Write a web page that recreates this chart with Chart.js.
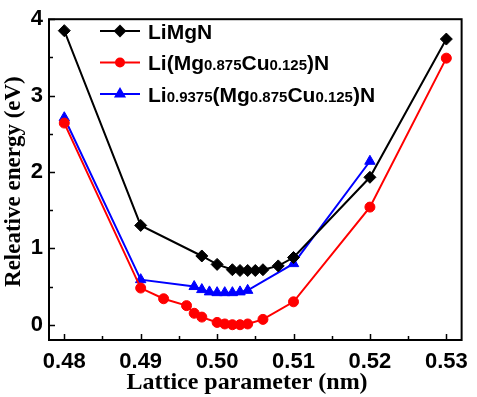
<!DOCTYPE html>
<html>
<head>
<meta charset="utf-8">
<script src="https://cdn.jsdelivr.net/npm/chart.js@4.4.1/dist/chart.umd.min.js"></script>
<style>
  html, body { margin: 0; padding: 0; background: #fff; }
  #wrap { width: 477px; height: 397px; position: relative; }
</style>
</head>
<body>
<div id="wrap"><canvas id="chart"></canvas></div>
<script>
// Lattice parameter (nm) vs relative energy (eV)
var latticeLiMgN = [0.48, 0.49, 0.498, 0.50, 0.502, 0.503, 0.504, 0.505, 0.506, 0.508, 0.51, 0.52, 0.53];
var energyLiMgN  = [3.85, 1.30, 0.90, 0.79, 0.72, 0.71, 0.71, 0.71, 0.72, 0.77, 0.88, 1.93, 3.74];

var latticeCu = [0.48, 0.49, 0.493, 0.496, 0.497, 0.498, 0.50, 0.501, 0.502, 0.503, 0.504, 0.506, 0.51, 0.52, 0.53];
var energyCu  = [2.64, 0.48, 0.34, 0.25, 0.15, 0.10, 0.03, 0.01, 0.00, 0.00, 0.01, 0.07, 0.30, 1.54, 3.49];

var latticeLiCu = [0.48, 0.49, 0.497, 0.498, 0.499, 0.50, 0.501, 0.502, 0.503, 0.504, 0.51, 0.52];
var energyLiCu  = [2.71, 0.59, 0.50, 0.46, 0.43, 0.42, 0.42, 0.42, 0.43, 0.45, 0.80, 2.14];

var xTicks = [0.48, 0.49, 0.50, 0.51, 0.52, 0.53];
var yTicks = [0, 1, 2, 3, 4];

// legend labels: [text, isSubscript]
var legendLabels = [
  [['LiMgN', 0]],
  [['Li(Mg', 0], ['0.875', 1], ['Cu', 0], ['0.125', 1], [')N', 0]],
  [['Li', 0], ['0.9375', 1], ['(Mg', 0], ['0.875', 1], ['Cu', 0], ['0.125', 1], [')N', 0]]
];
var xTitle = 'Lattice parameter (nm)';
var yTitle = 'Releative energy (eV)';

function pts(xs, ys) {
  return xs.map(function (x, i) { return { x: x, y: ys[i] }; });
}

var SANS = '"Liberation Sans", Arial, sans-serif';
var SERIF = '"Liberation Serif", "Times New Roman", serif';

var series = [
  { data: pts(latticeLiMgN, energyLiMgN), color: '#000000', style: 'rectRot', r: 6 },
  { data: pts(latticeCu, energyCu), color: '#ff0000', style: 'circle', r: 5 },
  { data: pts(latticeLiCu, energyLiCu), color: '#0000ff', style: 'triangle', r: 6 }
];

// inward ticks, frame, titles and legend
var decor = {
  id: 'decor',
  afterDraw: function (chart) {
    var ctx = chart.ctx, a = chart.chartArea;
    var xs = chart.scales.x, ys = chart.scales.y;
    ctx.save();
    ctx.strokeStyle = '#000';
    ctx.lineWidth = 2;
    ctx.strokeRect(a.left, a.top, a.right - a.left, a.bottom - a.top);

    ctx.lineWidth = 1.5;
    ctx.beginPath();
    xTicks.forEach(function (v, i) {
      var px = Math.round(xs.getPixelForValue(v)) + 0.5;
      ctx.moveTo(px, a.bottom); ctx.lineTo(px, a.bottom - 6);
      if (i < xTicks.length - 1) {
        var m = Math.round(xs.getPixelForValue((v + xTicks[i + 1]) / 2)) + 0.5;
        ctx.moveTo(m, a.bottom); ctx.lineTo(m, a.bottom - 4);
      }
    });
    yTicks.forEach(function (v, i) {
      var py = Math.round(ys.getPixelForValue(v)) + 0.5;
      ctx.moveTo(a.left, py); ctx.lineTo(a.left + 6, py);
      if (i < yTicks.length - 1) {
        var m = Math.round(ys.getPixelForValue((v + yTicks[i + 1]) / 2)) + 0.5;
        ctx.moveTo(a.left, m); ctx.lineTo(a.left + 4, m);
      }
    });
    ctx.stroke();

    // axis titles
    ctx.fillStyle = '#000';
    ctx.font = 'bold 24px ' + SERIF;
    ctx.textAlign = 'center';
    ctx.textBaseline = 'alphabetic';
    ctx.fillText(xTitle, 247, 389);
    ctx.save();
    ctx.translate(20, (a.top + a.bottom) / 2 + 2);
    ctx.rotate(-Math.PI / 2);
    ctx.font = 'bold 23px ' + SERIF;
    ctx.fillText(yTitle, 0, 0);
    ctx.restore();

    // legend
    var rows = [31, 62.5, 94];
    ctx.textAlign = 'left';
    series.forEach(function (s, i) {
      var y = rows[i];
      ctx.strokeStyle = s.color;
      ctx.lineWidth = 2;
      ctx.beginPath();
      ctx.moveTo(100, y); ctx.lineTo(140, y);
      ctx.stroke();
      ctx.fillStyle = s.color;
      Chart.helpers.drawPoint(ctx, { pointStyle: s.style, radius: s.r - 1, borderWidth: 1 }, 120, y);
      ctx.fill();
      var x = 148;
      ctx.fillStyle = '#000';
      legendLabels[i].forEach(function (seg) {
        ctx.font = seg[1] ? 'bold 15px ' + SANS : 'bold 21px ' + SANS;
        ctx.fillText(seg[0], x, y + 7.5);
        x += ctx.measureText(seg[0]).width;
      });
    });
    ctx.restore();
  }
};

new Chart(document.getElementById('chart').getContext('2d'), {
  type: 'scatter',
  data: {
    datasets: series.map(function (s) {
      return {
        data: s.data,
        showLine: true,
        borderColor: s.color,
        backgroundColor: s.color,
        borderWidth: 2,
        pointStyle: s.style,
        pointRadius: s.r,
        pointBorderWidth: 1,
        pointBorderColor: s.color,
        pointBackgroundColor: s.color,
        tension: 0
      };
    })
  },
  options: {
    responsive: true,
    maintainAspectRatio: false,
    animation: false,
    layout: { padding: { top: 13, right: 7, left: 0, bottom: 0 } },
    plugins: { legend: { display: false }, tooltip: { enabled: false } },
    scales: {
      x: {
        type: 'linear',
        min: 0.478,
        max: 0.532,
        afterBuildTicks: function (s) { s.ticks = xTicks.map(function (v) { return { value: v }; }); },
        afterFit: function (s) { s.height = 57; },
        grid: { display: false, drawTicks: false },
        border: { display: false },
        ticks: {
          padding: 9,
          color: '#000',
          font: { family: SANS, weight: 'bold', size: 22 },
          callback: function (v) { return v.toFixed(2); }
        }
      },
      y: {
        type: 'linear',
        min: -0.2,
        max: 4,
        afterBuildTicks: function (s) { s.ticks = yTicks.map(function (v) { return { value: v }; }); },
        afterFit: function (s) { s.width = 49; },
        grid: { display: false, drawTicks: false },
        border: { display: false },
        ticks: {
          padding: 6,
          color: '#000',
          font: { family: SANS, weight: 'bold', size: 22 },
          callback: function (v) { return String(v); }
        }
      }
    }
  },
  plugins: [decor]
});
</script>
</body>
</html>
